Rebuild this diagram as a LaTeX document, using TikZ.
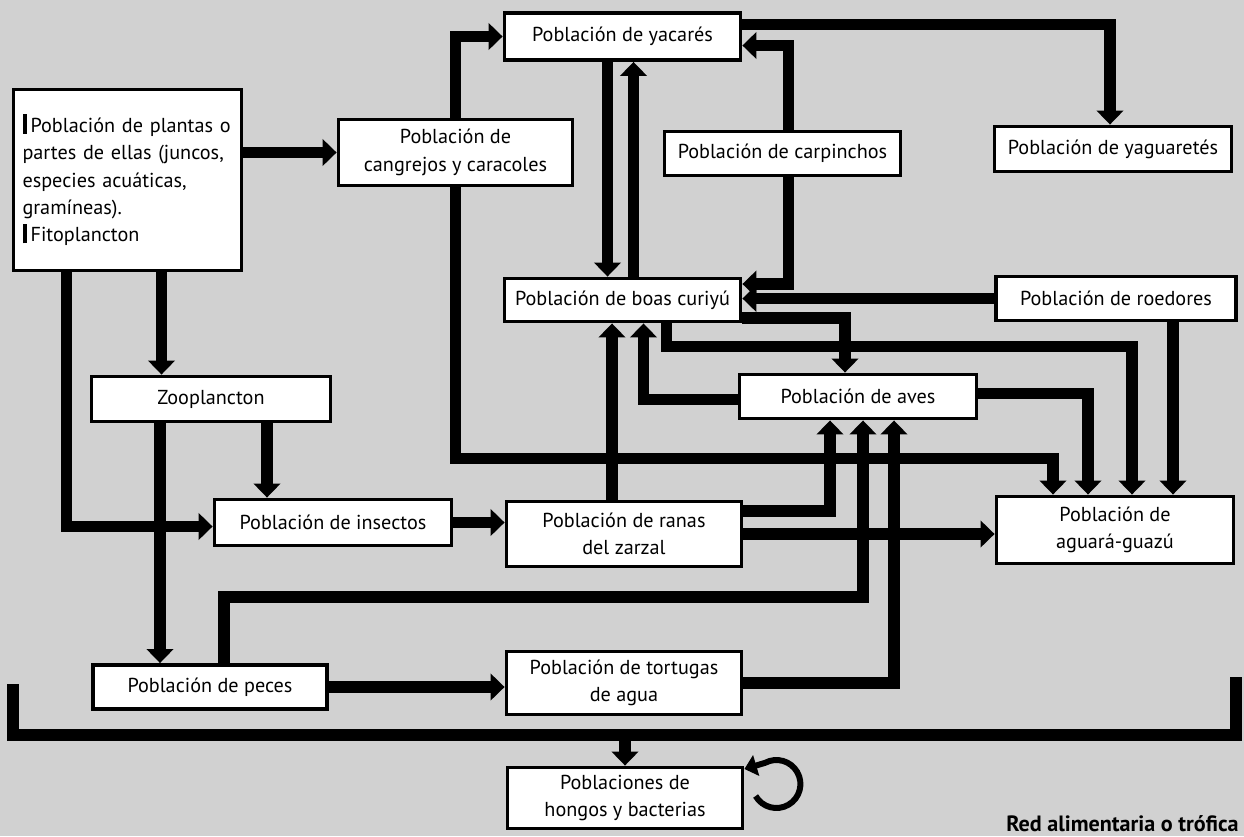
\documentclass[tikz,border=0pt]{standalone}
\usepackage{fontspec}
\setmainfont{PT Sans}
\usetikzlibrary{arrows.meta,calc}
\newcommand\barbullet{\rule[-0.15ex]{2.8pt}{1.95ex}\hspace{1.8pt}}
\begin{document}
\begin{tikzpicture}[x=0.02cm,y=-0.02cm,
  box/.style={draw=black,fill=white,line width=2.2pt,inner sep=2pt,align=center,
    font=\fontsize{11.5}{15.6}\selectfont},
  conn/.style={line width=6.6pt},
  arr/.style={conn,-{Triangle[length=8pt,width=15pt]}},
  loopline/.style={line width=3.4pt,-{Triangle[length=7pt,width=12pt]}}]
\useasboundingbox (0,0) rectangle (1244,836);
\fill[black!18] (0,0) rectangle (1244,836);

% nodes
\node[box,align=left,text width=4.2cm,inner xsep=0.18cm,minimum height=3.62cm] (plant) at (127.5,180)
  {\barbullet Población de plantas o\\ partes de ellas (juncos,\\ especies acuáticas,\\ gramíneas).\\ \barbullet Fitoplancton};
\node[box,minimum width=4.68cm,minimum height=1.32cm] (cang) at (455.5,152.5) {Población de\\ cangrejos y caracoles};
\node[box,minimum width=4.72cm,minimum height=0.94cm] (yac) at (622.5,36.5) {Población de yacarés};
\node[box,minimum width=4.72cm,minimum height=0.88cm] (carp) at (782.5,153.5) {Población de carpinchos};
\node[box,minimum width=4.74cm,minimum height=0.90cm] (yag) at (1113,149) {Población de yaguaretés};
\node[box,minimum width=4.72cm,minimum height=0.86cm] (boas) at (622.5,300) {Población de boas curiyú};
\node[box,minimum width=4.80cm,minimum height=0.88cm] (roed) at (1116,298.5) {Población de roedores};
\node[box,minimum width=4.78cm,minimum height=0.90cm] (zoo) at (211,399) {Zooplancton};
\node[box,minimum width=4.74cm,minimum height=0.88cm] (aves) at (858,396.5) {Población de aves};
\node[box,minimum width=4.74cm,minimum height=0.92cm] (ins) at (333,522.5) {Población de insectos};
\node[box,minimum width=4.70cm,minimum height=1.30cm] (ranas) at (624,534) {Población de ranas\\ del zarzal};
\node[box,minimum width=4.74cm,minimum height=1.34cm] (agu) at (1115,530) {Población de\\ aguará-guazú};
\node[box,minimum width=4.68cm,minimum height=0.88cm] (peces) at (210,687) {Población de peces};
\node[box,minimum width=4.70cm,minimum height=1.26cm] (tort) at (624,683) {Población de tortugas\\ de agua};
\node[box,minimum width=4.70cm,minimum height=1.22cm] (hongos) at (625,798) {Poblaciones de\\ hongos y bacterias};
\node[font=\fontsize{12.6}{14}\selectfont\bfseries,anchor=base east,inner sep=0pt] (title) at (1239,831) {Red alimentaria o trófica};

% connectors
\draw[arr] (plant.east |- cang.west) -- (cang.west);
\draw[arr] (cang.north) |- (yac.west);
\draw[arr] (cang.south) -- ++(0,271) -| ($(agu.north)+(-62,0)$);
\draw[arr] ($(plant.south)+(34,0)$) coordinate (p1) -- (p1 |- zoo.north);
\draw[arr] ($(plant.south)+(-61,0)$) |- ($(ins.west)+(0,4)$);
\draw[arr] ($(zoo.south)+(56,0)$) coordinate (z1) -- (z1 |- ins.north);
\draw[arr] ($(zoo.south)+(-51,0)$) coordinate (z2) -- (z2 |- peces.north);
\draw[arr] (ins.east) -- (ins.east -| ranas.west);
\draw[arr] ($(ranas.north)+(-12,0)$) coordinate (r1) -- (r1 |- boas.south);
\draw[arr] ($(aves.west)+(0,3)$) -| ($(boas.south)+(21,0)$);
\draw[arr] ($(boas.east)+(0,18)$) -| ($(aves.north)+(-13,0)$);
\draw[arr] ($(boas.south)+(44,0)$) -- ++(0,23) -| ($(agu.north)+(17,0)$);
\draw[arr] ($(carp.north)+(6,0)$) |- ($(yac.east)+(0,9)$);
\draw[arr] ($(carp.south)+(6,0)$) |- ($(boas.east)+(0,-16)$);
\draw[arr] ($(yac.south)+(-15,0)$) coordinate (y1) -- (y1 |- boas.north);
\draw[arr] ($(boas.north)+(11,0)$) coordinate (b1) -- (b1 |- yac.south);
\draw[arr] ($(yac.east)+(0,-12)$) -| ($(yag.north)+(-3,0)$);
\draw[arr] (roed.west) -- (roed.west -| boas.east);
\draw[arr] ($(roed.south)+(57,0)$) coordinate (o1) -- (o1 |- agu.north);
\draw[arr] ($(aves.east)+(0,-3)$) -| ($(agu.north)+(-27,0)$);
\draw[arr] ($(ranas.east)+(0,-23)$) -| ($(aves.south)+(-28,0)$);
\draw[arr] (ranas.east) -- (ranas.east -| agu.west);
\draw[arr] ($(peces.north)+(14,0)$) -- ++(0,-66) -| ($(aves.south)+(5,0)$);
\draw[arr] (tort.east) -| ($(aves.south)+(36,0)$);
\draw[arr] (peces.east) -- (peces.east -| tort.west);

% collector line to fungi and bacteria
\coordinate (busL) at (13,684);
\coordinate (busR) at (1236,677);
\coordinate (busY) at (0,735);
\draw[conn] (busL) |- (busY -| busR) -- (busR);
\draw[arr] (hongos.north |- busY) -- (hongos.north);

% self loop
\draw[loopline] ($(hongos.east)+(32,-14)$) ++(150:24) arc[start angle=150,end angle=-118,radius=24] -- ($(hongos.east)+(0,-29)$);
\end{tikzpicture}
\end{document}
